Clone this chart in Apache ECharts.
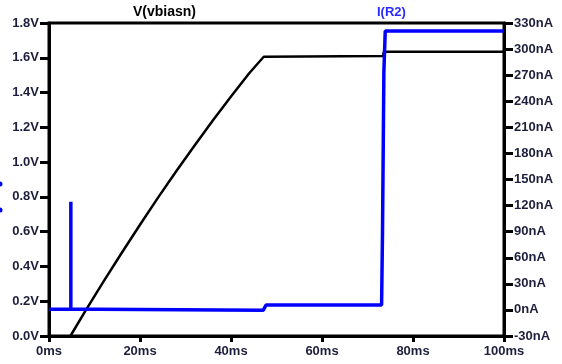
<!DOCTYPE html>
<html><head><meta charset="utf-8">
<style>html,body{margin:0;padding:0;background:#fff}#c{width:562px;height:364px}</style>
<script src="https://cdn.jsdelivr.net/npm/echarts@6/dist/echarts.min.js"></script>
</head><body><div id="c"></div>
<script>
// V(vbiasn) trace: time (ms), voltage (V)
var vTime   = [4.7, 8, 12, 16, 20, 24, 28, 32, 36, 40, 44, 47.2, 73.4, 73.6, 100];
var vValues = [0, 0.144, 0.314, 0.479, 0.640, 0.797, 0.949, 1.096, 1.239, 1.377, 1.511, 1.606, 1.610, 1.635, 1.635];
// I(R2) trace: time (ms), current (nA)
var iTime   = [0, 4.8, 4.8, 4.8, 10.5, 10.5, 47.1, 47.7, 73.1, 73.3, 73.6, 73.9, 100];
var iValues = [0.8, 0.8, 124.5, 0.8, 0.8, -0.3, -0.3, 5.65, 5.65, 90, 274, 320.8, 320.8];
// axis ticks
var xTicks = {min: 0, max: 100, step: 20};
var vTicks = {min: 0, max: 1.8, step: 0.2};
var iTicks = {min: -30, max: 330, step: 30};

function pairs(xs, ys){ return xs.map(function(x,i){ return [x, ys[i]]; }); }

var labelColor = '#1e1e3c';
var font = 'Liberation Sans, Arial, sans-serif';
var chart = echarts.init(document.getElementById('c'), null, {renderer:'canvas'});
chart.setOption({
  animation: false,
  backgroundColor: '#fff',
  grid: {left: 49, right: 58, top: 23, bottom: 28, show: true, borderColor: '#000', borderWidth: 3, backgroundColor: 'transparent'},
  graphic: [
    {type:'text', left: 133, top: 5, style:{text:'V(vbiasn)', fill:'#000', font:'bold 14px Liberation Sans, Arial, sans-serif'}},
    {type:'text', left: 377, top: 6, style:{text:'I(R2)', fill:'#2a2aff', font:'bold 13px Liberation Sans, Arial, sans-serif'}},
    {type:'circle', shape:{cx:0, cy:184, r:2.5}, style:{fill:'#0000ff'}},
    {type:'circle', shape:{cx:0, cy:210, r:2.5}, style:{fill:'#0000ff'}}
  ],
  xAxis: {
    type: 'value', min: xTicks.min, max: xTicks.max, interval: xTicks.step,
    axisLine: {show: true, lineStyle: {color: '#000', width: 3}},
    axisTick: {show: true, length: 6, lineStyle: {color: '#000', width: 3}},
    splitLine: {show: false},
    axisLabel: {formatter: '{value}ms', color: labelColor, fontFamily: font, fontWeight: 'bold', fontSize: 13, margin: 9}
  },
  yAxis: [{
    type: 'value', position: 'left', min: vTicks.min, max: vTicks.max, interval: vTicks.step,
    axisLine: {show: true, lineStyle: {color: '#000', width: 3}},
    axisTick: {show: true, length: 9, lineStyle: {color: '#000', width: 3}},
    splitLine: {show: false},
    axisLabel: {formatter: function(v){ return v.toFixed(1) + 'V'; }, color: labelColor, fontFamily: font, fontWeight: 'bold', fontSize: 13, margin: 10}
  }, {
    type: 'value', position: 'right', min: iTicks.min, max: iTicks.max, interval: iTicks.step,
    axisLine: {show: true, lineStyle: {color: '#000', width: 3}},
    axisTick: {show: true, length: 9, lineStyle: {color: '#000', width: 3}},
    splitLine: {show: false},
    axisLabel: {formatter: '{value}nA', color: labelColor, fontFamily: font, fontWeight: 'bold', fontSize: 13, margin: 10}
  }],
  series: [{
    name: 'V(vbiasn)', type: 'line', yAxisIndex: 0, data: pairs(vTime, vValues),
    showSymbol: false, symbol: 'none', lineStyle: {color: '#000', width: 2.5}, z: 3
  }, {
    name: 'I(R2)', type: 'line', yAxisIndex: 1, data: pairs(iTime, iValues),
    showSymbol: false, symbol: 'none', lineStyle: {color: '#0000ff', width: 3.5}, z: 4
  }]
});
</script></body></html>
